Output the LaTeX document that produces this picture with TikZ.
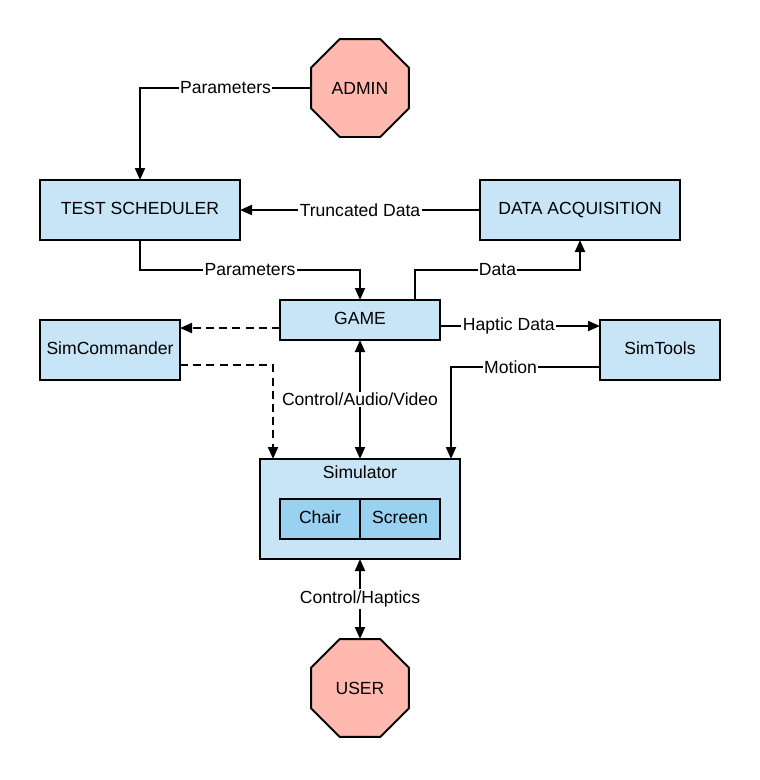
\documentclass[tikz,border=0pt]{standalone}
\usepackage{fontspec}
\setmainfont{Liberation Sans}
\usepackage{tikz}
\usetikzlibrary{positioning, shapes, arrows.meta}

\definecolor{boxblue}{HTML}{C7E5F6}
\definecolor{innerblue}{HTML}{99D1F1}
\definecolor{stopred}{HTML}{FFB9AE}

\tikzset{
  box/.style={rectangle, draw, line width=1.4pt, fill=boxblue, outer sep=0pt, text height=1.6ex, text depth=0.3ex, minimum width=5cm, minimum height=1.5cm},
  stopnode/.style={regular polygon, regular polygon sides=8, draw, line width=1.4pt, fill=stopred, outer sep=0pt, minimum size=2.65cm, inner sep=0pt},
  lbl/.style={fill=white, inner sep=1pt},
  arr/.style={line width=1.4pt, -{Triangle[length=0.3cm, width=0.25cm]}},
  arrb/.style={line width=1.4pt, {Triangle[length=0.3cm, width=0.25cm]}-{Triangle[length=0.3cm, width=0.25cm]}},
  dash line/.style={dash pattern=on 0.2cm off 0.13cm}
}

\begin{document}
\begin{tikzpicture}[font=\fontsize{12.5}{15}\selectfont]
  \useasboundingbox (0,0) rectangle (19,-19.5);

  % Centro
  \node[box, minimum width=4cm, minimum height=1cm] (game) at (9,-8) {GAME};

  % Riga superiore
  \node[box, above left=1.5cm and 1cm of game] (scheduler) {TEST SCHEDULER};
  \node[box, above right=1.5cm and 1cm of game] (acquisition) {DATA ACQUISITION};
  \node[stopnode, above=4.075cm of game] (admin) {ADMIN};

  % Laterali
  \node[box, minimum width=3.5cm, left=2.5cm of game, yshift=-0.75cm] (simcommander) {SimCommander};
  \node[box, minimum width=3cm, right=4cm of game, yshift=-0.75cm] (simtools) {SimTools};

  % Simulatore
  \node[box, minimum height=2.5cm, below=2.975cm of game] (simulator) {};
  \node[below=0.05cm of simulator.north] (simtitle) {Simulator};
  \node[box, fill=innerblue, minimum width=2cm, minimum height=1cm, below left=1cm and 0cm of simulator.north] (chair) {Chair};
  \node[box, fill=innerblue, minimum width=2cm, minimum height=1cm, right=0cm of chair] (screen) {Screen};

  % Utente
  \node[stopnode, below=2cm of simulator] (user) {USER};

  % Connessioni
  \draw[arr] (admin) -| node[lbl, pos=0.25] {Parameters} (scheduler);
  \draw[arr] (acquisition) -- node[lbl] {Truncated Data} (scheduler);
  \draw[arr] (scheduler.south) -- ++(0,-0.75) -| node[lbl, pos=0.25] {Parameters} (game.north);
  \draw[arr] ([xshift=1.375cm]game.north) -- ++(0,0.75) -| node[lbl, pos=0.25] {Data} (acquisition.south);
  \draw[arr, dash line] ([yshift=-0.2cm]game.west) -- ([yshift=-0.2cm]game.west -| simcommander.east);
  \draw[arr, dash line] ([yshift=-0.375cm]simcommander.east) -| ([xshift=0.325cm]simulator.north west);
  \draw[arrb] (game) -- node[lbl] {Control/Audio/Video} (simulator);
  \draw[arr] ([yshift=-0.15cm]game.east) -- node[lbl, pos=0.43] {Haptic Data} ([yshift=-0.15cm]game.east -| simtools.west);
  \draw[arr] ([yshift=-0.425cm]simtools.west) -| node[lbl, pos=0.3] {Motion} ([xshift=-0.225cm]simulator.north east);
  \draw[arrb] (simulator) -- node[lbl] {Control/Haptics} (user);
\end{tikzpicture}
\end{document}
